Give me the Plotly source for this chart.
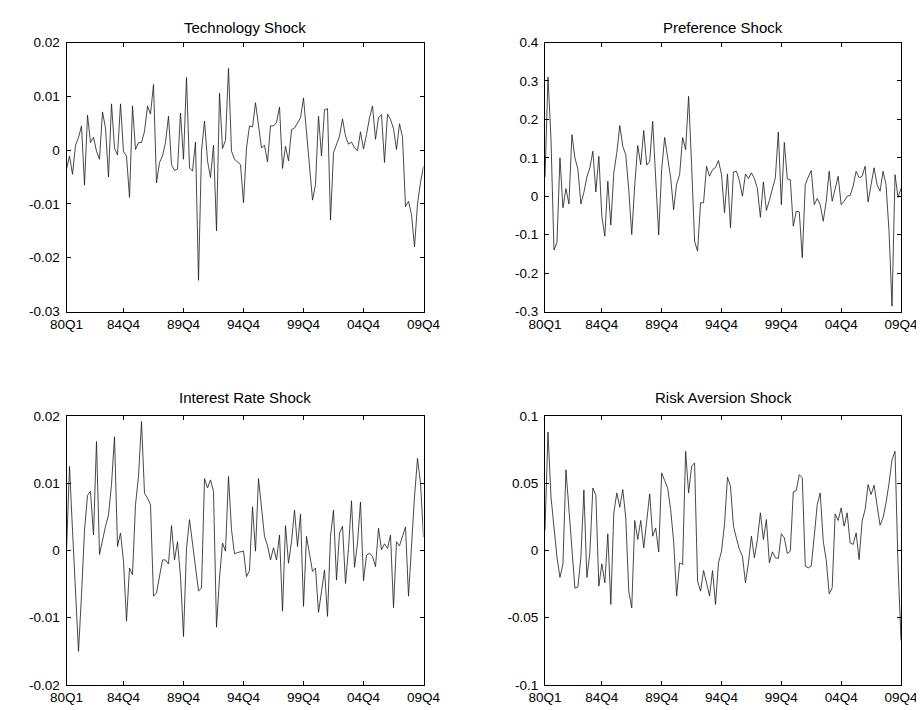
import plotly.graph_objects as go

# quarterly index 1..120 (80Q1 .. 09Q4)
quarters = list(range(1, 121))
tick_pos = [1, 20, 40, 60, 80, 100, 120]
tick_lab = ["80Q1", "84Q4", "89Q4", "94Q4", "99Q4", "04Q4", "09Q4"]

technology = [
    -0.0036, -0.0011, -0.0045, 0.0009, 0.0023, 0.0045, -0.0065, 0.0065, 0.0014, 0.0024,
    -0.0002, -0.0017, 0.0071, 0.0041, -0.0050, 0.0086, 0.0004, -0.0009, 0.0086, -0.0003,
    -0.0011, -0.0088, 0.0082, 0.0001, 0.0014, 0.0014, 0.0035, 0.0082, 0.0067, 0.0122,
    -0.0061, -0.0023, -0.0011, 0.0014, 0.0063, -0.0027, -0.0038, -0.0035,
    0.0069, -0.0017, 0.0135, -0.0033, -0.0039, 0.0015, -0.0242, -0.0002, 0.0054, -0.0020,
    -0.0051, 0.0009, -0.0150, 0.0106, 0.0003, 0.0018, 0.0152, -0.0002, -0.0017, -0.0022,
    -0.0027, -0.0098, 0.0004, 0.0045, 0.0043, 0.0088, 0.0041, 0.0004, 0.0009, -0.0022,
    0.0045, 0.0045, 0.0051, 0.0080, -0.0034, 0.0007, -0.0020,
    0.0038, 0.0041, 0.0051, 0.0060, 0.0097, 0.0035, -0.0035, -0.0093, -0.0064, 0.0063,
    -0.0011, 0.0075, 0.0077, -0.0130, -0.0005, 0.0011, 0.0026, 0.0058, 0.0026, 0.0011,
    0.0015, 0.0004, -0.0001, 0.0034, 0.0002, 0.0029, 0.0060, 0.0082, 0.0020, 0.0060,
    0.0066, -0.0023, 0.0067, 0.0057, 0.0040, 0.0001, 0.0049, 0.0024,
    -0.0105, -0.0095, -0.0120, -0.0180, -0.0100, -0.0060, -0.0030,
]

preference = [
    0.05, 0.31, 0.15, -0.14, -0.12, 0.10, -0.03, 0.02, -0.02, 0.16,
    0.10, 0.07, -0.02, 0.01, 0.05,
    0.074, 0.117, 0.011, 0.104, -0.052, -0.104, 0.039, -0.075, 0.061, 0.113,
    0.184, 0.130, 0.108, 0.017, -0.100, 0.030, 0.132, 0.082, 0.171, 0.081,
    0.091, 0.195, 0.039, -0.101, 0.069, 0.153, 0.100, 0.048, -0.035, 0.032,
    0.056, 0.153, 0.121, 0.260, 0.082, -0.117, -0.143, -0.017,
    -0.017, 0.078, 0.052, 0.069, 0.075, 0.093, 0.056, -0.043, 0.058, -0.082,
    0.063, 0.065, 0.040, 0.000, 0.058, 0.046, 0.061, 0.046, 0.020, -0.055,
    0.037, -0.037, -0.011, 0.017, 0.048, 0.167, -0.022, 0.140, 0.045, 0.043,
    -0.078, -0.039, -0.041, -0.160, 0.030, 0.050, 0.067, -0.022,
    -0.006, -0.022, -0.065, -0.013, 0.065, -0.013, 0.017, 0.052, -0.022, -0.013,
    0.000, 0.002, 0.026, 0.065, 0.048, 0.052, 0.078, -0.015, 0.030, 0.074,
    0.030, 0.013, 0.065, 0.030, -0.091, -0.286, 0.056, -0.003, 0.020,
]

interest = [
    0.0000, 0.0125, 0.0030, -0.0066, -0.0150, -0.0066, 0.0030, 0.0082, 0.0088, 0.0023,
    0.0162, -0.0006, 0.0018, 0.0036, 0.0053, 0.0098, 0.0169, 0.0006, 0.0026, -0.0016,
    -0.0105, -0.0026, -0.0036, 0.0068, 0.0110, 0.0192, 0.0085, 0.0078, 0.0068, -0.0068,
    -0.0063, -0.0039, -0.0014, -0.0014, -0.0020, 0.0037, -0.0014, 0.0013,
    -0.0039, -0.0128, 0.0003, 0.0046, 0.0008, -0.0026, -0.0060, -0.0056, 0.0107, 0.0093,
    0.0105, 0.0088, -0.0114, -0.0041, 0.0011, -0.0001, 0.0110, 0.0031, -0.0005, -0.0003,
    -0.0002, -0.0001, -0.0039, -0.0030, 0.0065, -0.0001, 0.0107, 0.0063, 0.0021, 0.0007,
    -0.0014, 0.0004, -0.0014, 0.0023, -0.0090, 0.0037,
    -0.0019, 0.0013, 0.0060, 0.0006, 0.0054, -0.0083, 0.0021, -0.0005, -0.0031, -0.0026,
    -0.0092, -0.0061, -0.0029, -0.0098, 0.0021, 0.0060, -0.0044, 0.0026, 0.0036, -0.0049,
    0.0003, 0.0074, -0.0025, 0.0011, 0.0072, -0.0045, -0.0007, -0.0004, -0.0009, -0.0024,
    0.0033, 0.0001, 0.0010, 0.0003, 0.0023, -0.0085, 0.0013, 0.0007, 0.0022,
    0.0035, -0.0068, 0.0015, 0.0080, 0.0137, 0.0100, 0.0020,
]

risk = [
    0.015, 0.088, 0.040, 0.015, -0.005, -0.020, -0.010, 0.060, 0.030, 0.000,
    -0.028, -0.027, -0.005, 0.045, -0.020,
    -0.0017, 0.0465, 0.0411, -0.0265, -0.0099, -0.0240, 0.0124, -0.0401, 0.0280, 0.0428,
    0.0322, 0.0453, 0.0243, -0.0302, -0.0426, 0.0223, 0.0082, 0.0223, 0.0020, 0.0218,
    0.0421, 0.0106, 0.0168, -0.0010, 0.0577, 0.0520, 0.0465, 0.0304, 0.0069, -0.0339,
    -0.0092, -0.0104, 0.0738, 0.0428, 0.0626, 0.0651, -0.0228, -0.0302,
    -0.0149, -0.0240, -0.0339, -0.0149, -0.0401, -0.0092, -0.0005, 0.0193, 0.0545, 0.0478,
    0.0181, 0.0090, 0.0007, -0.0042, -0.0240, -0.0092, 0.0106, -0.0054, 0.0082, 0.0280,
    0.0082, 0.0230, -0.0092, -0.0010, -0.0054, -0.0059, 0.0124, 0.0094, -0.0022, -0.0005,
    0.0436, 0.0446, 0.0564, 0.0540, -0.0116, -0.0129,
    -0.0116, 0.0106, 0.0342, 0.0428, 0.0069, -0.0067, -0.0322, -0.0277, 0.0272, 0.0223,
    0.0317, 0.0181, 0.0280, 0.0057, 0.0045, 0.0131, -0.0067, 0.0218, 0.0304, 0.0490,
    0.0416, 0.0485, 0.0350, 0.0188, 0.0243, 0.0354, 0.0500, 0.0676, 0.0738, -0.0104,
    -0.0670,
]

titles = ["Technology Shock", "Preference Shock", "Interest Rate Shock", "Risk Aversion Shock"]
series = [technology, preference, interest, risk]
y_ranges = [[-0.03, 0.02], [-0.3, 0.4], [-0.02, 0.02], [-0.1, 0.1]]
y_ticks = [
    [-0.03, -0.02, -0.01, 0, 0.01, 0.02],
    [-0.3, -0.2, -0.1, 0, 0.1, 0.2, 0.3, 0.4],
    [-0.02, -0.01, 0, 0.01, 0.02],
    [-0.1, -0.05, 0, 0.05, 0.1],
]
y_labels = [
    ["-0.03", "-0.02", "-0.01", "0", "0.01", "0.02"],
    ["-0.3", "-0.2", "-0.1", "0", "0.1", "0.2", "0.3", "0.4"],
    ["-0.02", "-0.01", "0", "0.01", "0.02"],
    ["-0.1", "-0.05", "0", "0.05", "0.1"],
]

# the page body has an 8px margin, so the figure is drawn 8px in from the corner
off = 8
W, H = 924 - off, 710 - off
x_doms = [[(66.5 - off) / W, (423.5 - off) / W], [(545 - off) / W, (901 - off) / W]]
y_doms = [[1 - (311.5 - off) / H, 1 - (42.5 - off) / H],
          [1 - (685 - off) / H, 1 - (416 - off) / H]]
title_y = [1 - (27 - off) / H, 1 - (397 - off) / H]

tick_font = dict(family="Arial, Liberation Sans, sans-serif", size=13.5, color="black")
title_font = dict(family="Arial, Liberation Sans, sans-serif", size=15, color="black")

fig = go.Figure()
layout = dict(
    width=W, height=H,
    margin=dict(l=0, r=0, t=0, b=0, autoexpand=False),
    paper_bgcolor="white", plot_bgcolor="white",
    showlegend=False, font=tick_font,
    annotations=[],
)

for k in range(4):
    row, col = divmod(k, 2)
    n = "" if k == 0 else str(k + 1)
    fig.add_trace(go.Scatter(
        x=quarters, y=series[k], mode="lines",
        line=dict(color="#1a1a1a", width=0.8),
        xaxis="x" + n, yaxis="y" + n,
    ))
    axis_style = dict(
        showline=True, linecolor="black", linewidth=1, mirror="ticks",
        ticks="inside", ticklen=4, tickcolor="black", tickwidth=1,
        showgrid=False, zeroline=False, tickfont=tick_font, automargin=False,
    )
    layout["xaxis" + n] = dict(
        domain=x_doms[col], range=[1, 120], anchor="y" + n,
        tickmode="array", tickvals=tick_pos, ticktext=tick_lab, **axis_style,
    )
    layout["yaxis" + n] = dict(
        domain=y_doms[row], range=y_ranges[k], anchor="x" + n,
        tickmode="array", tickvals=y_ticks[k], ticktext=y_labels[k],
        ticklabelstandoff=3, **axis_style,
    )
    layout["annotations"].append(dict(
        text=titles[k], x=sum(x_doms[col]) / 2, y=title_y[row],
        xref="paper", yref="paper", xanchor="center", yanchor="middle",
        showarrow=False, font=title_font,
    ))

fig.update_layout(**layout)
fig.write_html("out.html")
